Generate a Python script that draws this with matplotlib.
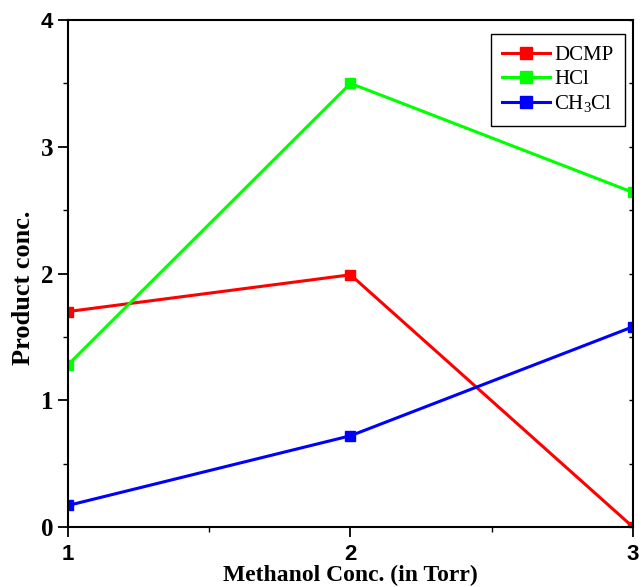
import matplotlib
matplotlib.use("Agg")
import matplotlib.pyplot as plt

# methanol pressure (Torr)
methanol = [1, 2, 3]
dcmp = [1.70, 1.99, 0.0]
hcl = [1.28, 3.50, 2.64]
ch3cl = [0.17, 0.72, 1.58]

x_ticks = [1, 2, 3]
y_ticks = [0, 1, 2, 3, 4]

plt.rcParams['mathtext.fontset'] = 'custom'
plt.rcParams['mathtext.rm'] = 'Liberation Serif'
plt.rcParams['mathtext.default'] = 'rm'

fig = plt.figure(figsize=(6.43, 5.87), dpi=100)
ax = fig.add_axes([0.1058, 0.1022, 0.8786, 0.8637])

style = dict(marker='s', markersize=6.5, linewidth=2.2)
ax.plot(methanol, dcmp, color='#ff0000', label='DCMP', **style)
ax.plot(methanol, hcl, color='#00ff00', label='HCl', **style)
ax.plot(methanol, ch3cl, color='#0000ff', label='CH$_3$Cl', **style)

ax.set_xlim(1, 3)
ax.set_ylim(0, 4)

for sp in ax.spines.values():
    sp.set_linewidth(1.5)

ax.set_xticks(x_ticks, [str(v) for v in x_ticks])
ax.set_xticks([1.5, 2.5], minor=True)
ax.set_yticks(y_ticks, [str(v) for v in y_ticks])
ax.set_yticks([0.5, 1.5, 2.5, 3.5], minor=True)
ax.tick_params(which='major', direction='out', length=7.2, width=1.3)
ax.tick_params(which='minor', direction='out', length=3.6, width=1.0)
ax.tick_params(axis='x', which='major', pad=5)
ax.tick_params(axis='y', which='major', pad=3.5)

for lbl in ax.get_xticklabels():
    lbl.set_fontfamily('Liberation Sans')
    lbl.set_fontweight('bold')
    lbl.set_fontsize(16)
for lbl in ax.get_yticklabels():
    if lbl.get_text() == '4':
        lbl.set_fontfamily('Liberation Sans')
        lbl.set_fontsize(16)
    else:
        lbl.set_fontfamily('Liberation Serif')
        lbl.set_fontsize(18)
    lbl.set_fontweight('bold')

# small inward ticks on the right spine
sec = ax.secondary_yaxis('right')
sec.set_yticks(y_ticks, [''] * len(y_ticks))
sec.set_yticks([0.5, 1.5, 2.5, 3.5], minor=True)
sec.tick_params(which='both', direction='in', length=3, width=1.0)
sec.spines['right'].set_visible(False)

ax.set_xlabel('Methanol Conc. (in Torr)', fontfamily='Liberation Serif',
              fontweight='bold', fontsize=17, labelpad=0)
ax.set_ylabel('Product conc.', fontfamily='Liberation Serif',
              fontweight='bold', fontsize=19)
ax.yaxis.set_label_coords(-0.058, 0.472)

leg = ax.legend(loc='upper right', bbox_to_anchor=(0.986, 0.972), borderaxespad=0,
                prop={'family': 'Liberation Serif', 'size': 15}, fancybox=False,
                edgecolor='black', framealpha=1, handlelength=2.3,
                handletextpad=0.2, labelspacing=0.2, borderpad=0.55,
                markerscale=1.3)
leg.get_frame().set_linewidth(1.0)

fig.savefig('out.png', dpi=100)
